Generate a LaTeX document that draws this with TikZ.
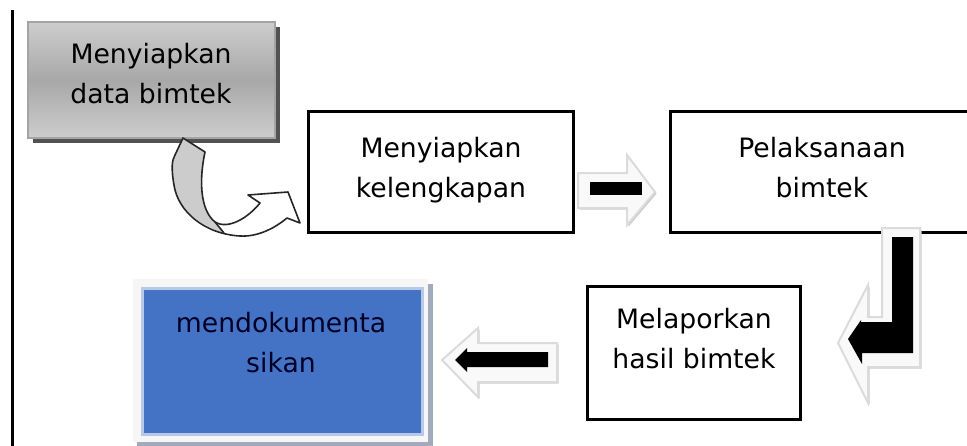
\documentclass[tikz,border=0pt]{standalone}
\usepackage{fontspec}
\setmainfont{DejaVu Sans}
\usetikzlibrary{shadows}

\definecolor{boxtop}{HTML}{CDCDCD}
\definecolor{boxmid}{HTML}{A8A8A8}
\definecolor{boxrim}{HTML}{A4A4A4}
\definecolor{docblue}{HTML}{4472C4}
\definecolor{docrim}{HTML}{B9C8E8}
\definecolor{docshadow}{HTML}{A3AABB}

\tikzset{
	stepbox/.style={draw, line width=2.25pt, fill=white, inner sep=0pt},
	txt/.style={anchor=north, align=center, inner sep=0pt,
		font=\fontsize{20pt}{30pt}\selectfont},
	blockarrow/.style={fill=gray!5, draw=gray!28, line width=1.5pt,
		drop shadow={shadow xshift=1.2pt, shadow yshift=-1.2pt, fill=gray!40, opacity=1}},
	innerarrow/.style={fill=black}
}

\begin{document}
\begin{tikzpicture}[x=0.75pt, y=-0.75pt]
	
	\useasboundingbox (0,0) rectangle (967,446);
	
	% Left margin line
	\draw [line width=2.25pt] (12,10) -- (12,446);
	
	%% BOXES
	% Data
	\node [draw=boxrim, line width=1.5pt, top color=boxtop, bottom color=boxtop, middle color=boxmid,
		minimum width=185pt, minimum height=87pt,
		drop shadow={shadow xshift=3.75pt, shadow yshift=-3.75pt, fill=black!68, opacity=1}]
		(data) at (151.5,80) {};
	\node [txt] (data-t) at (151,43) {Menyiapkan\\data bimtek};
	
	% Kelengkapan
	\node [stepbox, minimum width=199pt, minimum height=91pt] (kelengkapan) at (441,172) {};
	\node [txt] (kelengkapan-t) at (441,137) {Menyiapkan\\kelengkapan};
	
	% Pelaksanaan
	\node [stepbox, minimum width=228pt, minimum height=91pt] (pelaksanaan) at (822.5,172) {};
	\node [txt] (pelaksanaan-t) at (822,137) {Pelaksanaan\\bimtek};
	
	% Laporan
	\node [stepbox, minimum width=160pt, minimum height=100pt] (laporan) at (694,353) {};
	\node [txt] (laporan-t) at (694,308) {Melaporkan\\hasil bimtek};
	
	% Dokumentasi
	\fill [docshadow] (137,284) rectangle (433,447);
	\fill [gray!7] (133,279) rectangle (428,442);
	\node [draw=docrim, line width=2.25pt, fill=docblue, inner sep=0pt,
		minimum width=210pt, minimum height=110pt] (dokumentasi) at (282,361.5) {};
	\node [txt, text=black!85!blue] (dokumentasi-t) at (281,312) {mendokumenta\\sikan};
	
	%% ARROWS
	% Curved arrow
	\fill [white] (183,138) -- (205,152)
		.. controls (199,180) and (200,210) .. (215,222)
		.. controls (228,230) and (248,218) .. (260,203)
		-- (248,195) -- (288,192) -- (300,223) -- (287,218)
		.. controls (275,228) and (258,237) .. (240,236)
		.. controls (205,234) and (178,212) .. (174,185)
		.. controls (171,168) and (172,160) .. (175,155) -- cycle;
	\fill [gray!40] (183,138) -- (205,152)
		.. controls (199,180) and (200,210) .. (215,222)
		-- (224,233)
		.. controls (196,224) and (177,206) .. (174,185)
		.. controls (171,168) and (172,160) .. (175,155) -- cycle;
	\draw [line width=1.2pt, line join=round, black!85] (183,138) -- (205,152)
		.. controls (199,180) and (200,210) .. (215,222)
		.. controls (228,230) and (248,218) .. (260,203)
		-- (248,195) -- (288,192) -- (300,223) -- (287,218)
		.. controls (275,228) and (258,237) .. (240,236)
		.. controls (205,234) and (178,212) .. (174,185)
		.. controls (171,168) and (172,160) .. (175,155) -- cycle;
	\draw [line width=1.2pt, black!85] (215,222) -- (224,233);
	
	% Right arrow
	\draw [blockarrow] (578,173) -- (627,173) -- (627,155) -- (655,192)
		-- (627,225) -- (627,208) -- (578,208) -- cycle;
	\fill [innerarrow] (590,182) rectangle (642,195);
	
	% Bent arrow
	\draw [blockarrow] (882,228) -- (920,228) -- (920,367) -- (868,367) -- (868,403)
		-- (838,343) -- (868,285) -- (868,317) -- (882,317) -- cycle;
	\fill [innerarrow] (892,237) -- (913,237) -- (913,353) -- (862,353) -- (862,364)
		-- (848,339) -- (861,320) -- (861,322) -- (892,322) -- cycle;
	
	% Left arrow
	\draw [blockarrow] (557,343) -- (478,343) -- (478,328) -- (442,360)
		-- (478,397) -- (478,382) -- (557,382) -- cycle;
	\fill [innerarrow] (548,352) -- (467,352) -- (467,348) -- (455,360)
		-- (467,372) -- (467,367) -- (548,367) -- cycle;
	
\end{tikzpicture}
\end{document}
